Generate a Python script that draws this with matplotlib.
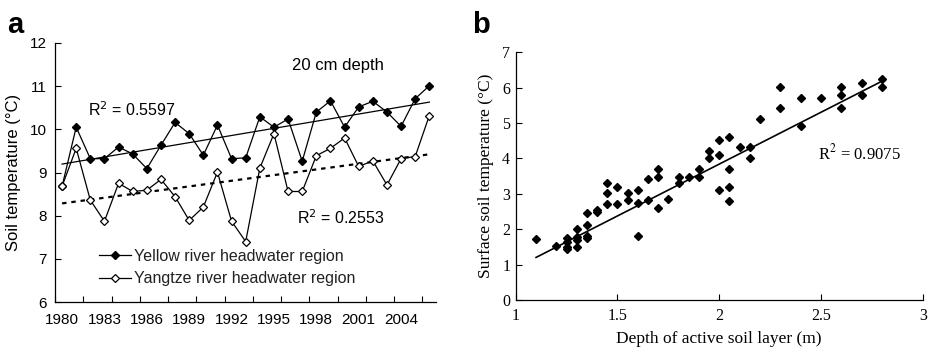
import matplotlib.pyplot as plt
import numpy as np

# panel a: annual mean soil temperature at 20 cm depth
years = np.arange(1980, 2007)
yellow = [8.68, 10.05, 9.32, 9.32, 9.59, 9.43, 9.09, 9.63, 10.16, 9.90,
          9.40, 10.10, 9.32, 9.34, 10.29, 10.05, 10.24, 9.26, 10.40, 10.66,
          10.05, 10.52, 10.65, 10.40, 10.07, 10.71, 11.01]
yangtze = [8.68, 9.56, 8.36, 7.87, 8.75, 8.56, 8.59, 8.84, 8.44, 7.89,
           8.20, 9.01, 7.87, 7.40, 9.10, 9.90, 8.56, 8.56, 9.39, 9.56,
           9.80, 9.14, 9.27, 8.71, 9.32, 9.37, 10.32]
year_labels = np.arange(1980, 2005, 3)

# panel b: active layer depth vs surface soil temperature
depth = [1.10, 1.20, 1.25, 1.25, 1.25, 1.25, 1.30, 1.30, 1.30, 1.30,
         1.35, 1.35, 1.35, 1.35, 1.40, 1.40, 1.45, 1.45, 1.45, 1.50,
         1.50, 1.55, 1.55, 1.60, 1.60, 1.60, 1.65, 1.65, 1.70, 1.70,
         1.70, 1.75, 1.80, 1.80, 1.85, 1.90, 1.90, 1.95, 1.95, 2.00,
         2.00, 2.00, 2.05, 2.05, 2.05, 2.05, 2.10, 2.15, 2.15, 2.20,
         2.30, 2.30, 2.40, 2.40, 2.50, 2.60, 2.60, 2.60, 2.70, 2.70,
         2.80, 2.80]
surface_temp = [1.71, 1.54, 1.76, 1.65, 1.49, 1.43, 2.02, 1.79, 1.70, 1.51,
                2.45, 2.11, 1.82, 1.75, 2.55, 2.50, 3.32, 3.02, 2.70, 3.20,
                2.70, 3.02, 2.82, 3.11, 2.75, 1.81, 3.41, 2.82, 3.70, 3.49,
                2.60, 2.85, 3.49, 3.32, 3.49, 3.70, 3.49, 4.21, 4.00, 4.51,
                4.11, 3.11, 4.62, 3.70, 3.20, 2.81, 4.33, 4.33, 4.00, 5.12,
                6.01, 5.42, 5.72, 4.93, 5.72, 6.01, 5.78, 5.42, 6.13, 5.78,
                6.24, 6.01]
# trend line as printed in the figure (slope, intercept)
trend_b = [2.93, -2.02]

SANS = "Liberation Sans"
SERIF = "Liberation Serif"
W, H = 931, 348


def main() -> None:
    fig = plt.figure(figsize=(W / 100, H / 100), dpi=100)

    # ---- panel a ----
    ax = fig.add_axes([55 / W, 1 - 302 / H, (436.4 - 55) / W, (302 - 43) / H])
    ax.plot(years, yellow, color="black", lw=0.9, marker="D", ms=4.3,
            mfc="black", mec="black", label="Yellow river headwater region")
    ax.plot(years, yangtze, color="black", lw=0.9, marker="D", ms=4.3,
            mfc="white", mec="black", mew=0.9, label="Yangtze river headwater region")

    yr = np.array([years[0], years[-1]])
    c1 = np.polyfit(years, yellow, 1)
    c2 = np.polyfit(years, yangtze, 1)
    ax.plot(yr, np.polyval(c1, yr), color="black", lw=0.9, zorder=1)
    ax.plot(yr, np.polyval(c2, yr), color="black", lw=1.6, ls=(0, (2, 2.2)), zorder=1)

    ax.set_xlim(1979.5, 2006.5)
    ax.set_ylim(6, 12)
    ax.set_xticks(np.arange(1979.5, 2006, 2))
    ax.set_xticklabels([])
    ax.set_xticks(year_labels, minor=True)
    ax.set_xticklabels([str(y) for y in year_labels], minor=True,
                       family=SANS, fontsize=11)
    ax.tick_params(axis="x", which="major", direction="in", length=4, width=0.8)
    ax.tick_params(axis="x", which="minor", length=0, pad=8)
    ax.set_yticks(np.arange(6, 13, 1))
    ax.set_yticklabels([str(v) for v in range(6, 13)], family=SANS, fontsize=11)
    ax.tick_params(axis="y", direction="in", length=4, width=0.8, pad=6)
    for s in ("top", "right"):
        ax.spines[s].set_visible(False)
    for s in ("left", "bottom"):
        ax.spines[s].set_linewidth(0.9)
    ax.set_ylabel("Soil temperature (\u00b0C)", family=SANS, fontsize=12, labelpad=6)

    ax.text(1984.9, 10.46, r"R$^2$ = 0.5597", family=SANS, fontsize=11.5,
            ha="center", va="center")
    ax.text(1999.5, 11.49, "20 cm depth", family=SANS, fontsize=12,
            ha="center", va="center")
    ax.text(1999.7, 7.96, r"R$^2$ = 0.2553", family=SANS, fontsize=11.5,
            ha="center", va="center")
    leg = ax.legend(loc="upper left", bbox_to_anchor=(0.115, 0.205),
                    frameon=False, borderpad=0, borderaxespad=0,
                    handlelength=2.0, handletextpad=0.2, labelspacing=0.45,
                    prop={"family": SANS, "size": 11.5})
    for t in leg.get_texts():
        t.set_color("#222222")

    # ---- panel b ----
    bx = fig.add_axes([515.7 / W, 1 - 300 / H, 407 / W, 247.7 / H])
    bx.plot(depth, surface_temp, ls="none", marker="D", ms=3.8,
            mfc="black", mec="black")
    xd = np.array([min(depth), max(depth)])
    bx.plot(xd, np.polyval(trend_b, xd), color="black", lw=1.2)
    bx.set_xlim(1, 3)
    bx.set_ylim(0, 7)
    bx.set_xticks([1, 1.5, 2, 2.5, 3])
    bx.set_xticklabels(["1", "1.5", "2", "2.5", "3"], family=SERIF, fontsize=11.5)
    bx.set_yticks(range(0, 8))
    bx.set_yticklabels([str(v) for v in range(0, 8)], family=SERIF, fontsize=11.5)
    bx.tick_params(direction="in", length=4, width=0.8)
    bx.tick_params(axis="x", pad=6)
    bx.tick_params(axis="y", pad=4)
    for s in ("top", "right"):
        bx.spines[s].set_visible(False)
    for s in ("left", "bottom"):
        bx.spines[s].set_linewidth(0.9)
    bx.set_xlabel("Depth of active soil layer (m)", family=SERIF, fontsize=12.5,
                  labelpad=5)
    bx.set_ylabel("Surface soil temperature (\u00b0C)", family=SERIF,
                  fontsize=12.5, labelpad=6)
    bx.text(2.687, 4.15, r"R$^2$ = 0.9075", family=SERIF, fontsize=12,
            ha="center", va="center", math_fontfamily="stix")

    fig.text(7 / W, 1 - 33 / H, "a", family=SANS, fontsize=21,
             fontweight="bold", va="baseline")
    fig.text(472 / W, 1 - 33 / H, "b", family=SANS, fontsize=21,
             fontweight="bold", va="baseline")

    fig.savefig("out.png", dpi=100)
    plt.close(fig)


if __name__ == "__main__":
    main()
